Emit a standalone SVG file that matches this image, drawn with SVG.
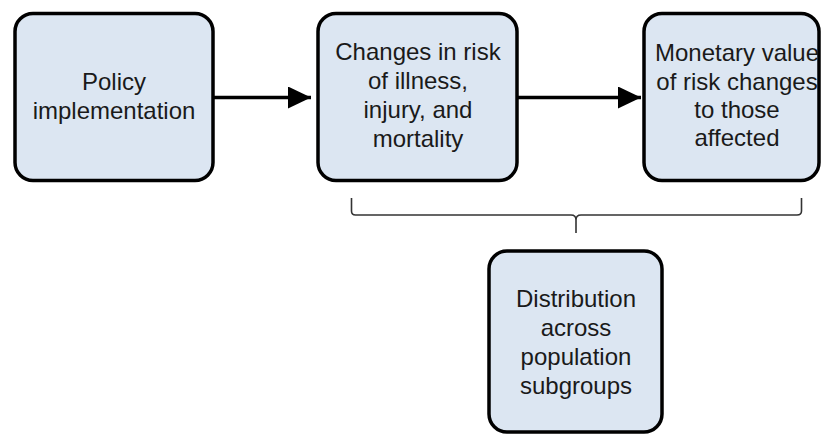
<svg xmlns="http://www.w3.org/2000/svg" width="822" height="435" viewBox="0 0 822 435">
<style>
.box{fill:#dce6f2;stroke:#000;stroke-width:3.5}
.t{font-family:"Liberation Sans",Arial,sans-serif;font-size:24px;fill:#1a1a1a;text-anchor:middle}
.arr{stroke:#000;stroke-width:3.5;fill:none}
.brace{stroke:#333;stroke-width:1.6;fill:none}
</style>
<defs>
<marker id="ah" viewBox="0 0 23 22" refX="23" refY="11" markerWidth="23" markerHeight="22" markerUnits="userSpaceOnUse" orient="auto">
<path d="M0,0 L23,11 L0,22 Z" fill="#000"/>
</marker>
</defs>
<rect width="822" height="435" fill="#fff"/>
<g id="connectors">
<line class="arr" x1="214" y1="97.5" x2="311" y2="97.5" marker-end="url(#ah)"/>
<line class="arr" x1="518" y1="97.5" x2="641" y2="97.5" marker-end="url(#ah)"/>
<path class="brace" d="M351.5,198 V211 Q351.5,215 355.5,215 H571 Q576,215 576,220 V233 M576,220 Q576,215 581,215 H797 Q801.5,215 801.5,211 V198"/>
</g>
<g id="policy">
<rect class="box" x="15" y="13.5" width="198" height="167" rx="18"/>
<text class="t" x="114" y="90">Policy</text>
<text class="t" x="114" y="118.5">implementation</text>
</g>
<g id="changes">
<rect class="box" x="318" y="13.5" width="199" height="167" rx="18"/>
<text class="t" x="418" y="60">Changes in risk</text>
<text class="t" x="418" y="89">of illness,</text>
<text class="t" x="418" y="118">injury, and</text>
<text class="t" x="418" y="147">mortality</text>
</g>
<g id="monetary">
<rect class="box" x="644" y="13.5" width="175" height="167" rx="18"/>
<text class="t" x="737" y="61">Monetary value</text>
<text class="t" x="737" y="89.5">of risk changes</text>
<text class="t" x="737" y="117.5">to those</text>
<text class="t" x="737" y="145.5">affected</text>
</g>
<g id="distribution">
<rect class="box" x="489" y="251" width="173" height="181" rx="18"/>
<text class="t" x="576" y="307">Distribution</text>
<text class="t" x="576" y="336">across</text>
<text class="t" x="576" y="365">population</text>
<text class="t" x="576" y="394">subgroups</text>
</g>
</svg>
